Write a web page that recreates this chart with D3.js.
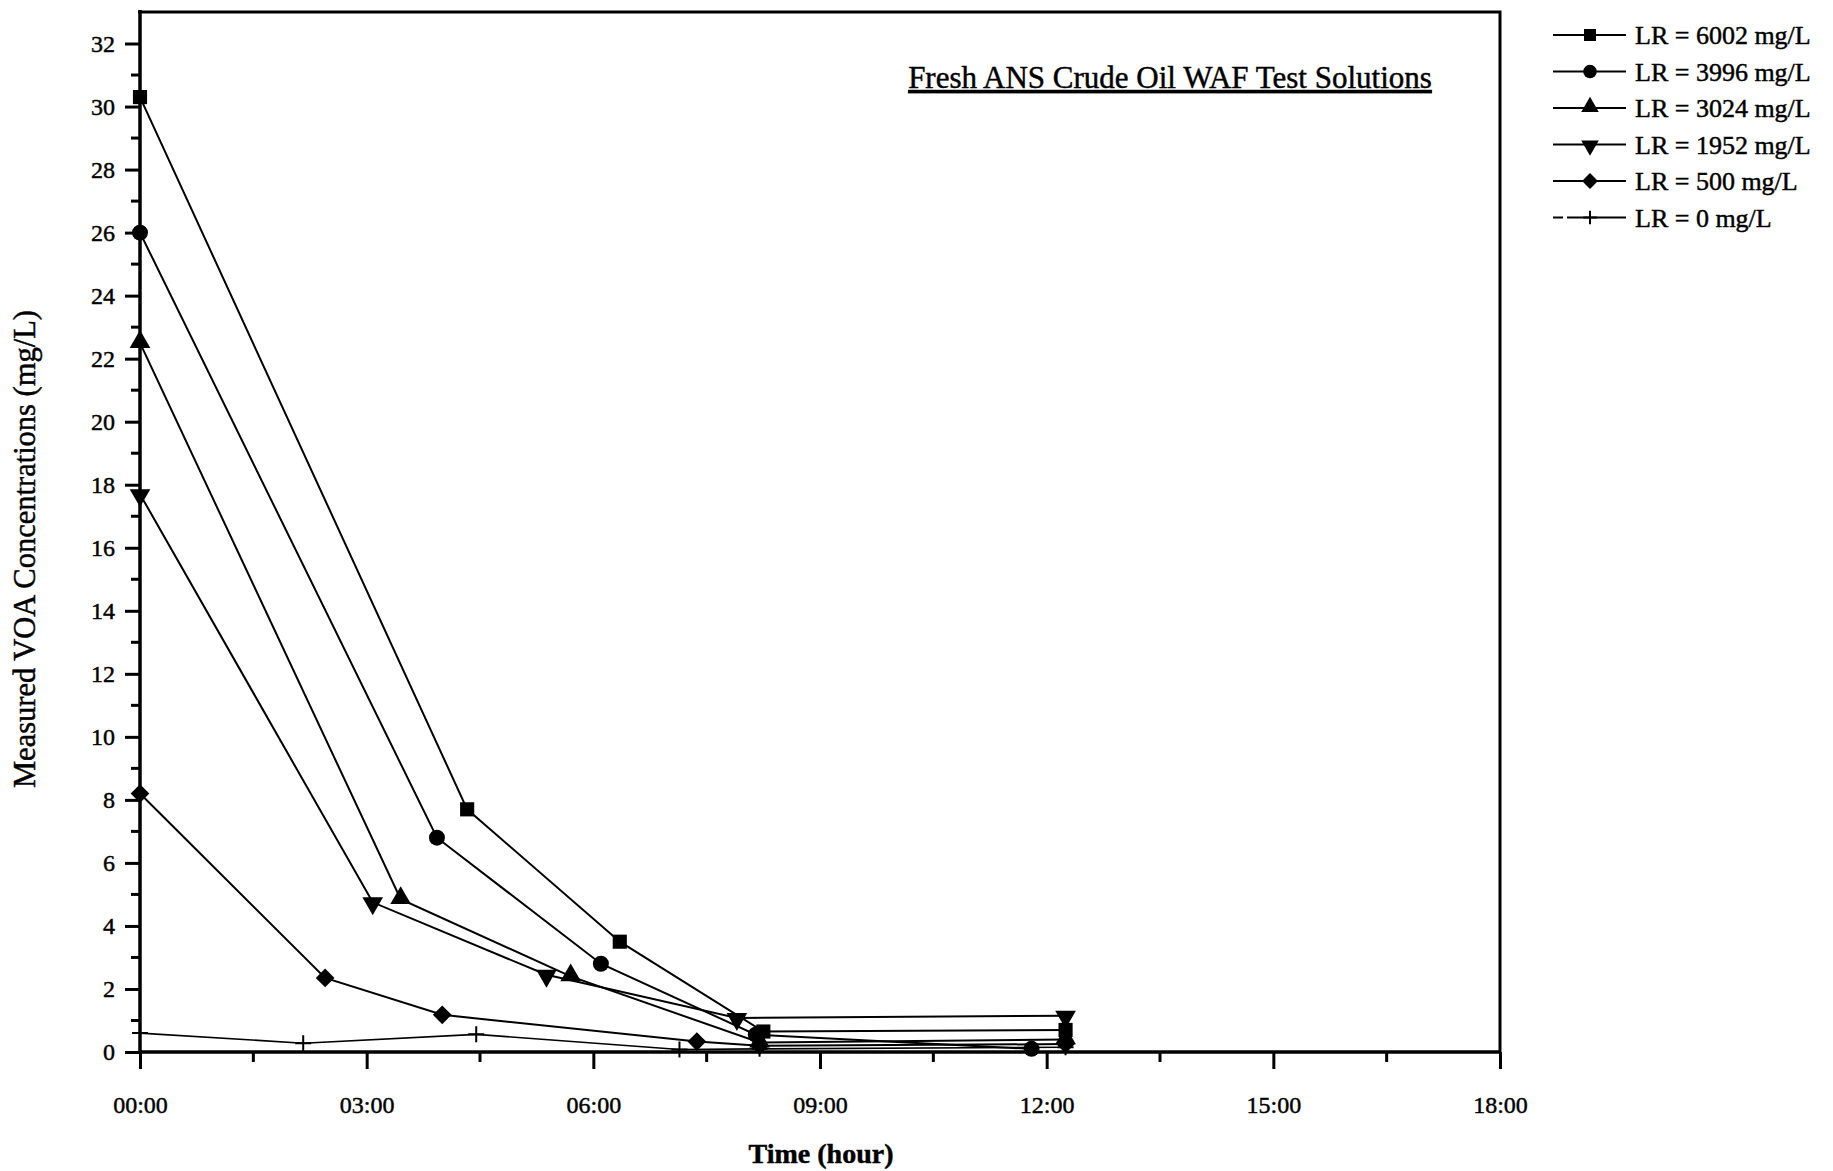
<!DOCTYPE html>
<html>
<head>
<meta charset="utf-8">
<script src="https://cdn.jsdelivr.net/npm/d3@7"></script>
<style>
  html, body { margin: 0; padding: 0; background: #fff; }
  svg { display: block; }
  text { font-family: "Liberation Serif", "Times New Roman", serif; fill: #000; stroke: #000; stroke-width: 0.45px; }
</style>
</head>
<body>
<svg id="chart" width="1833" height="1171"></svg>
<script>
// Sampling times (hours after preparation) and measured VOA concentrations (mg/L)
const seriesNames = ["LR = 6002 mg/L", "LR = 3996 mg/L", "LR = 3024 mg/L", "LR = 1952 mg/L", "LR = 500 mg/L", "LR = 0 mg/L"];
const markerTypes = ["square", "circle", "triangleUp", "triangleDown", "diamond", "plus"];

const hours6002 = [0, 4.33, 6.35, 8.25, 12.25];
const voa6002   = [30.3, 7.7, 3.5, 0.65, 0.7];

const hours3996 = [0, 3.93, 6.1, 8.15, 11.8];
const voa3996   = [26.0, 6.8, 2.8, 0.55, 0.1];

const hours3024 = [0, 3.45, 5.7, 8.2, 12.25];
const voa3024   = [22.5, 4.85, 2.4, 0.3, 0.4];

const hours1952 = [0, 3.08, 5.38, 7.9, 12.25];
const voa1952   = [17.7, 4.75, 2.45, 1.08, 1.15];

const hours500 = [0, 2.45, 4.0, 7.37, 8.2, 12.25];
const voa500   = [8.2, 2.35, 1.18, 0.33, 0.2, 0.25];

const hours0 = [0, 2.16, 4.45, 7.14, 8.2, 12.25];
const voa0   = [0.6, 0.28, 0.56, 0.08, 0.1, 0.15];

const xTickHours = [0, 3, 6, 9, 12, 15, 18];
const yTickValues = [0, 2, 4, 6, 8, 10, 12, 14, 16, 18, 20, 22, 24, 26, 28, 30, 32];

const chartTitle = "Fresh ANS Crude Oil WAF Test Solutions";
const xTitle = "Time (hour)";
const yTitle = "Measured VOA Concentrations (mg/L)";

const hoursList = [hours6002, hours3996, hours3024, hours1952, hours500, hours0];
const voaList = [voa6002, voa3996, voa3024, voa1952, voa500, voa0];
const series = seriesNames.map((name, i) => ({
  name,
  marker: markerTypes[i],
  points: hoursList[i].map((h, j) => ({ h, v: voaList[i][j] }))
}));

const svg = d3.select("#chart");
const plot = { left: 140, right: 1500, top: 12, bottom: 1052 };

const x = d3.scaleLinear().domain([0, 18]).range([plot.left, plot.right]);
const y = d3.scaleLinear().domain([0, 33]).range([plot.bottom, plot.top]);

const fmtHour = h => String(h).padStart(2, "0") + ":00";

// frame: top and right edges
svg.append("path")
  .attr("d", `M${plot.left - 2},${plot.top} H${plot.right} V${plot.bottom}`)
  .attr("fill", "none").attr("stroke", "#000").attr("stroke-width", 3);

// minor ticks
const yMinor = d3.range(1, 33, 2);
svg.append("g").selectAll("line").data(yMinor).join("line")
  .attr("x1", plot.left - 9).attr("x2", plot.left)
  .attr("y1", d => y(d)).attr("y2", d => y(d))
  .attr("stroke", "#000").attr("stroke-width", 3);

const xMinor = d3.range(1.5, 18, 3);
svg.append("g").selectAll("line").data(xMinor).join("line")
  .attr("x1", d => x(d)).attr("x2", d => x(d))
  .attr("y1", plot.bottom).attr("y2", plot.bottom + 10)
  .attr("stroke", "#000").attr("stroke-width", 3);

// y axis
const yAxis = d3.axisLeft(y).tickValues(yTickValues).tickSize(15).tickPadding(10).tickFormat(d3.format("d"));
const gy = svg.append("g").attr("transform", `translate(${plot.left},0)`).call(yAxis);
gy.select(".domain").attr("d", `M0,${plot.top - 2}V${plot.bottom}`).attr("stroke-width", 3.5);
gy.selectAll(".tick line").attr("stroke-width", 3);
gy.selectAll(".tick text").attr("font-size", 24).attr("font-family", "Liberation Serif");

// x axis
const xAxis = d3.axisBottom(x).tickValues(xTickHours).tickSize(17).tickPadding(27).tickFormat(fmtHour);
const gx = svg.append("g").attr("transform", `translate(0,${plot.bottom})`).call(xAxis);
gx.select(".domain").attr("d", `M${plot.left},0H${plot.right}`).attr("stroke-width", 3.5);
gx.selectAll(".tick line").attr("stroke-width", 3);
gx.selectAll(".tick text").attr("font-size", 24).attr("font-family", "Liberation Serif");

// axis titles
svg.append("text")
  .attr("x", (plot.left + plot.right) / 2 + 1).attr("y", 1163)
  .attr("text-anchor", "middle").attr("font-size", 28).attr("font-weight", "bold")
  .text(xTitle);

svg.append("text")
  .attr("transform", `translate(35,549) rotate(-90)`)
  .attr("text-anchor", "middle").attr("font-size", 30.5)
  .text(yTitle);

// chart title (underlined)
svg.append("text")
  .attr("x", 1170).attr("y", 88)
  .attr("text-anchor", "middle").attr("font-size", 31)
  .attr("text-decoration", "underline")
  .text(chartTitle);

// marker drawing
const sym = {
  square: d3.symbol(d3.symbolSquare, 200),
  circle: d3.symbol(d3.symbolCircle, 200),
  triangleUp: d3.symbol(d3.symbolTriangle, 185),
  triangleDown: d3.symbol(d3.symbolTriangle, 185),
  diamond: d3.symbol(d3.symbolSquare, 175)
};
function drawMarker(g, type, cx, cy, scale = 1) {
  if (type === "plus") {
    const s = 8 * scale;
    g.append("path")
      .attr("d", `M${cx - s},${cy}H${cx + s}M${cx},${cy - s}V${cy + s}`)
      .attr("stroke", "#000").attr("stroke-width", 2).attr("fill", "none");
    return;
  }
  const rot = type === "triangleDown" ? 180 : type === "diamond" ? 45 : 0;
  const dy = type === "triangleUp" ? -1 : type === "triangleDown" ? 1 : 0;
  g.append("path")
    .attr("d", sym[type]())
    .attr("transform", `translate(${cx},${cy + dy}) rotate(${rot}) scale(${scale})`)
    .attr("fill", "#000");
}

const line = d3.line().x(d => x(d.h)).y(d => y(d.v));

const gSeries = svg.append("g");
series.forEach(s => {
  gSeries.append("path")
    .datum(s.points)
    .attr("d", line)
    .attr("fill", "none").attr("stroke", "#000")
    .attr("stroke-width", s.marker === "plus" ? 1.6 : 2);
});
series.forEach(s => {
  const g = gSeries.append("g");
  s.points.forEach(p => drawMarker(g, s.marker, x(p.h), y(p.v)));
});

// legend
const legend = svg.append("g");
const rowY = d3.scaleLinear().domain([0, 1]).range([35, 71.5]);
series.forEach((s, i) => {
  const cy = rowY(i);
  legend.append("line")
    .attr("x1", 1553).attr("x2", 1626).attr("y1", cy).attr("y2", cy)
    .attr("stroke", "#000").attr("stroke-width", 2)
    .attr("stroke-dasharray", s.marker === "plus" ? "10,4,60" : null);
  drawMarker(legend, s.marker, 1590, cy, 0.85);
  legend.append("text")
    .attr("x", 1635).attr("y", cy + 9)
    .attr("font-size", 26)
    .text(s.name);
});
</script>
</body>
</html>
